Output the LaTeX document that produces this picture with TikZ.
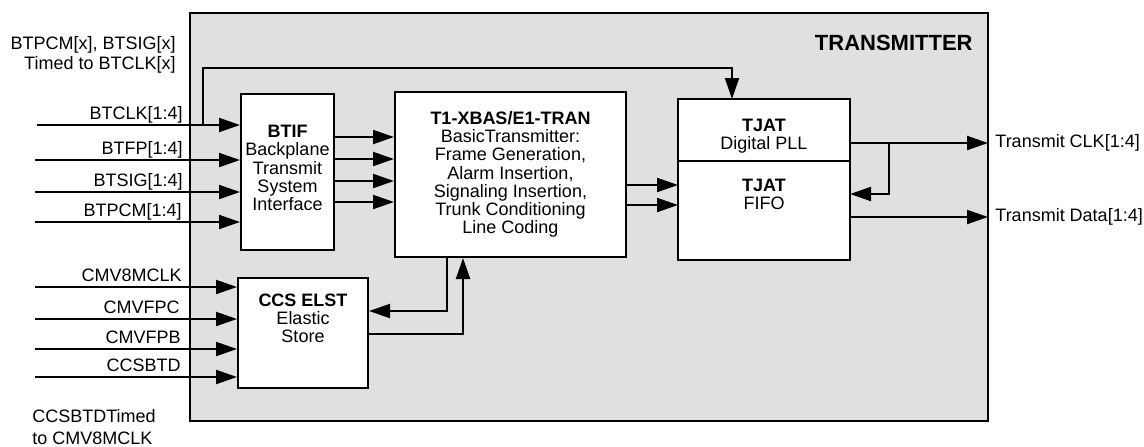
\documentclass[tikz,border=0pt]{standalone}
\usepackage{fontspec}
\setmainfont{Liberation Sans}
\usetikzlibrary{arrows.meta,positioning,calc}
\definecolor{GrisFondo}{RGB}{224,224,224}
\newcommand{\diagfont}{\fontsize{9}{9.1}\selectfont}
\tikzset{
  outerbox/.style={draw, line width=0.9pt, fill=GrisFondo, inner sep=0pt},
  blockbox/.style={draw, line width=1pt, fill=white, align=center,
    inner sep=0pt, font=\diagfont},
  boxtxt/.style={align=center, inner sep=0pt, font=\diagfont},
  sigarr/.style={-{Triangle[length=10.5pt, width=7pt]}, line width=1pt},
  pinlbl/.style={font=\diagfont, inner sep=0pt, anchor=base east},
  outlbl/.style={font=\diagfont, inner sep=0pt, anchor=west},
}

\begin{document}
\begin{tikzpicture}[x=0.5pt, y=-0.5pt]
  \useasboundingbox (0,0) rectangle (1144,446);

  % ---- bloque transmisor ----
  \node[outerbox, minimum width=399pt, minimum height=204pt] (tx) at (589,217) {};
  \node[font=\fontsize{11}{11}\selectfont\bfseries, inner sep=0pt, anchor=east]
    (txname) at (973,43) {TRANSMITTER};

  \node[blockbox, minimum width=46.5pt, minimum height=78pt] (btif) at (287.5,172) {};
  \node[boxtxt] (btiftxt) at ($(btif.center)+(0,-4)$)
    {\textbf{BTIF}\\ Backplane\\ Transmit\\ System\\ Interface};
  \node[blockbox, minimum width=115.5pt, minimum height=82.5pt] (tran) at (510.5,174.5)
    {\textbf{T1-XBAS/E1-TRAN}\\ BasicTransmitter:\\ Frame Generation,\\ Alarm Insertion,\\
     Signaling Insertion,\\ Trunk Conditioning\\ Line Coding};
  \node[blockbox, outer sep=0pt, minimum width=86pt, minimum height=31pt, anchor=north] (pll) at (764,99) {};
  \node[blockbox, outer sep=0pt, minimum width=86pt, minimum height=49.5pt, anchor=north] (fifo) at (pll.south) {};
  \node[boxtxt] (plltxt) at ($(pll.north)+(0,37)$) {\textbf{TJAT}\\ Digital PLL};
  \node[boxtxt] (fifotxt) at ($(fifo.north)+(0,33)$) {\textbf{TJAT}\\ FIFO};
  \node[blockbox, minimum width=65pt, minimum height=55pt] (ccs) at (303,333) {};
  \node[boxtxt] (ccstxt) at ($(ccs.north)+(0,41.5)$) {\textbf{CCS ELST}\\ Elastic\\ Store};

  % ---- entradas backplane ----
  \node[font=\diagfont, align=right, inner sep=0pt, anchor=east] (timing) at (176,55)
    {BTPCM[x], BTSIG[x]\\[0.9pt] Timed to BTCLK[x]};
  \coordinate (inclk) at (37,125);
  \coordinate (infp) at (35,160);
  \coordinate (insig) at (35,192);
  \coordinate (inpcm) at (35,222);
  \draw[sigarr] (inclk) -- (inclk -| btif.west);
  \draw[sigarr] (infp) -- (infp -| btif.west);
  \draw[sigarr] (insig) -- (insig -| btif.west);
  \draw[sigarr] (inpcm) -- (inpcm -| btif.west);
  \node[pinlbl] (lclk) at (183,119.5) {BTCLK[1:4]};
  \node[pinlbl] (lfp) at (183,154.5) {BTFP[1:4]};
  \node[pinlbl] (lsig) at (183,186.5) {BTSIG[1:4]};
  \node[pinlbl] (lpcm) at (182,216.5) {BTPCM[1:4]};

  \coordinate (clktap) at (203,125);
  \coordinate (clkturn) at (732,68);
  \draw[sigarr] (clktap) |- (clkturn) -- (clkturn |- pll.north);

  % ---- entradas CCS ----
  \coordinate (incm) at (35,287);
  \coordinate (inpc) at (35,319);
  \coordinate (inpb) at (35,349);
  \coordinate (inbtd) at (35,377);
  \draw[sigarr] (incm) -- (incm -| ccs.west);
  \draw[sigarr] (inpc) -- (inpc -| ccs.west);
  \draw[sigarr] (inpb) -- (inpb -| ccs.west);
  \draw[sigarr] (inbtd) -- (inbtd -| ccs.west);
  \node[pinlbl] (lcm) at (182,281.5) {CMV8MCLK};
  \node[pinlbl] (lpc) at (180,313.5) {CMVFPC};
  \node[pinlbl] (lpb) at (181,343.5) {CMVFPB};
  \node[pinlbl] (lbtd) at (181,371.5) {CCSBTD};
  \node[font=\diagfont, align=left, inner sep=0pt, anchor=west] (ccstiming) at (32,427)
    {CCSBTDTimed\\[1.9pt] to CMV8MCLK};

  % ---- conexiones internas ----
  \draw[sigarr] (btif.east |- 0,137) -- (tran.west |- 0,137);
  \draw[sigarr] (btif.east |- 0,159) -- (tran.west |- 0,159);
  \draw[sigarr] (btif.east |- 0,181) -- (tran.west |- 0,181);
  \draw[sigarr] (btif.east |- 0,202) -- (tran.west |- 0,202);
  \draw[sigarr] (tran.east |- 0,185) -- (fifo.west |- 0,185);
  \draw[sigarr] (tran.east |- 0,205) -- (fifo.west |- 0,205);

  \coordinate (tdown) at (447,311);
  \coordinate (tup) at (463,334);
  \draw[sigarr] (tdown |- tran.south) -- (tdown) -- (tdown -| ccs.east);
  \draw[sigarr] (tup -| ccs.east) -- (tup) -- (tup |- tran.south);

  % ---- salidas ----
  \coordinate (oclk) at (988,143);
  \coordinate (odat) at (988,217);
  \coordinate (fbtap) at (889,143);
  \draw[sigarr] (pll.east |- oclk) -- (oclk);
  \draw[sigarr] (fifo.east |- odat) -- (odat);
  \draw[sigarr] (fbtap) |- (fifo.east |- 0,194);
  \node[outlbl] (lclkout) at (995,143) {Transmit CLK[1:4]};
  \node[outlbl] (ldatout) at (995,217) {Transmit Data[1:4]};
\end{tikzpicture}
\end{document}
